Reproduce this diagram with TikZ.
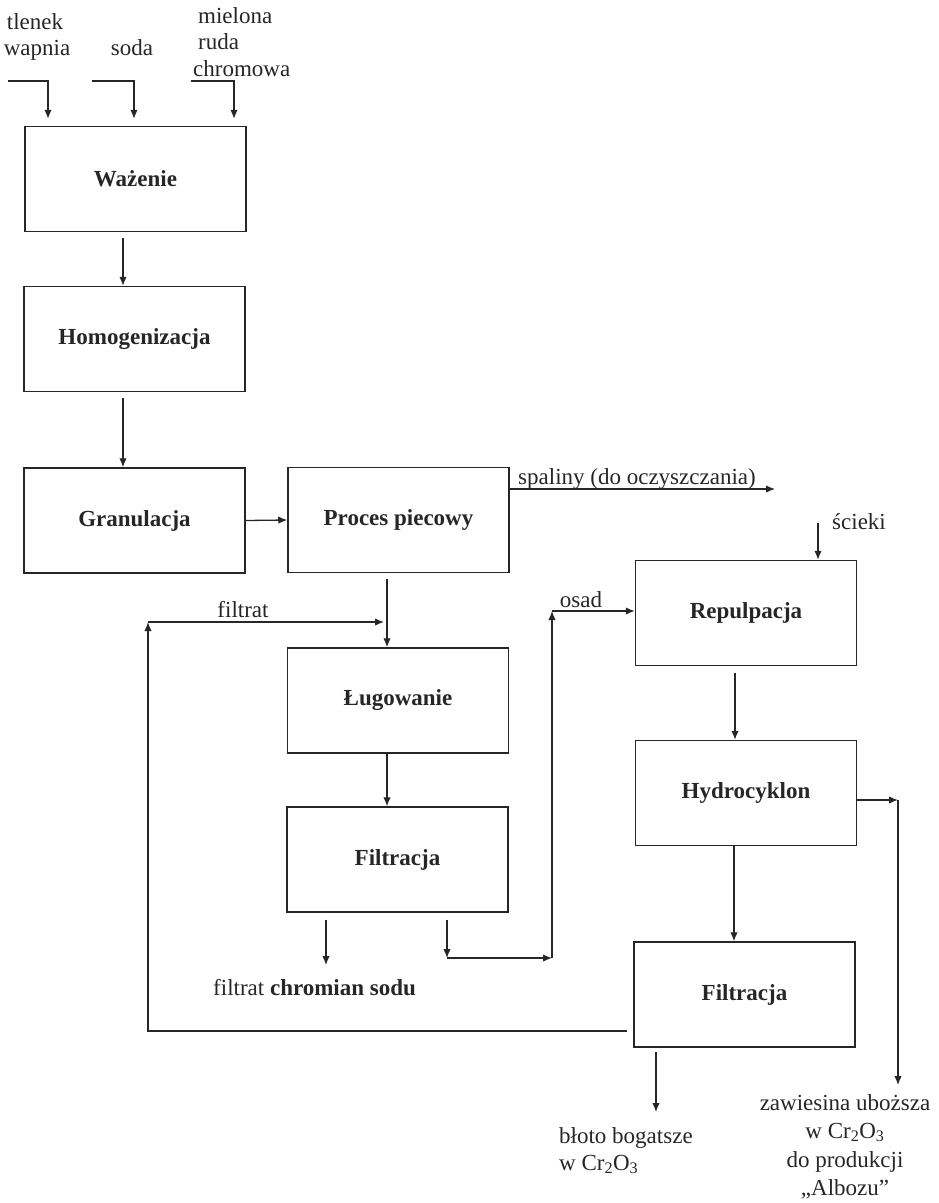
\documentclass[tikz,border=0pt]{standalone}
\usepackage{fontspec}
\setmainfont{Liberation Serif}
\usetikzlibrary{arrows.meta}
\definecolor{ink}{gray}{0.15}
\begin{document}
\begin{tikzpicture}[x=1pt,y=-1pt,
  box/.style={draw=ink, text=ink, line width=1.5pt, minimum width=221pt, minimum height=105pt, inner sep=0pt, font=\fontsize{23}{28}\selectfont\bfseries},
  lbl/.style={inner sep=0pt, text=ink, font=\fontsize{23}{28.5}\selectfont},
  arr/.style={draw=ink, line width=1.3pt, -{Latex[length=9pt,width=7.5pt]}},
  ln/.style={draw=ink, line width=1.3pt}]
\useasboundingbox (0,0) rectangle (939,1203);
% boxes
\node[box] (waz) at (135.5,179) {Ważenie};
\node[box] (hom) at (134.5,339) {Homogenizacja};
\node[box] (gran) at (134.5,520.5) {Granulacja};
\node[box] (proc) at (398.5,520) {Proces piecowy};
\node[box] (lug) at (398,700.5) {Ługowanie};
\node[box] (fil1) at (397.5,859.5) {Filtracja};
\node[box] (rep) at (746,613) {Repulpacja};
\node[box] (hyd) at (746,793) {Hydrocyklon};
\node[box] (fil2) at (744.5,994.5) {Filtracja};
% input labels
\node[lbl, anchor=base] (l1a) at (35,29) {tlenek};
\node[lbl, anchor=base] (l1b) at (37,55) {wapnia};
\node[lbl, anchor=base] (l2) at (132,55) {soda};
\node[lbl, anchor=base west] (l3a) at (198,23) {mielona};
\node[lbl, anchor=base west] (l3b) at (198,49) {ruda};
\node[lbl, anchor=base west] (l3c) at (193,76) {chromowa};
% input arrows
\coordinate (i1) at (8,81);
\coordinate (i2) at (92,81);
\coordinate (i3) at (191,81);
\draw[arr, shorten >=7pt] (i1) -| ([xshift=-87.5pt]waz.north);
\draw[arr, shorten >=7pt] (i2) -| ([xshift=-1.5pt]waz.north);
\draw[arr, shorten >=7pt] (i3) -| ([xshift=98.5pt]waz.north);
% main chain
\draw[arr, shorten <=6pt] ([xshift=-12.5pt]waz.south) -- ([xshift=-11.5pt]hom.north);
\draw[arr, shorten <=6pt] ([xshift=-11.5pt]hom.south) -- ([xshift=-11.5pt]gran.north);
\draw[arr] (gran.east) -- (proc.west);
\coordinate (sp) at (775,489);
\draw[arr] (proc.east |- sp) -- (sp);
\node[lbl, anchor=base west] (spl) at (518,484) {spaliny (do oczyszczania)};
\draw[arr, shorten <=6pt] ([xshift=-11.5pt]proc.south) -- ([xshift=-11pt]lug.north);
\draw[arr] ([xshift=-11pt]lug.south) -- ([xshift=-10.5pt]fil1.north);
% filtrat loop
\coordinate (fb) at (148,1031);
\coordinate (ft) at (148,622);
\coordinate (fe) at (384,622);
\draw[arr, shorten <=6pt] (fil2.west |- fb) -- (fb) -- (ft);
\draw[arr] (ft) -- (fe);
\node[lbl, anchor=base] (fl) at (243,617) {filtrat};
% filtracja 1 outputs
\coordinate (fa) at (326,965);
\draw[arr, shorten <=7pt] (fil1.south -| fa) -- (fa);
\node[lbl, anchor=base west] (chs) at (213,995) {filtrat \textbf{chromian sodu}};
\coordinate (o1) at (447,958);
\coordinate (o2) at (552,958);
\coordinate (o3) at (552,611);
\draw[arr, shorten <=7pt] (fil1.south -| o1) -- (o1);
\draw[arr] (o1) -- (o2);
\draw[arr] (o2) -- (o3);
\draw[arr] (o3) -- (rep.west |- o3);
\node[lbl, anchor=base] (os) at (581,607) {osad};
% scieki
\coordinate (sc) at (818,523);
\draw[arr] (sc) -- (sc |- rep.north);
\node[lbl, anchor=base west] (scl) at (832,529) {ścieki};
% right chain
\draw[arr, shorten <=7pt] ([xshift=-11pt]rep.south) -- ([xshift=-11pt]hyd.north);
\draw[arr] ([xshift=-12pt]hyd.south) -- ([xshift=-10.5pt]fil2.north);
\coordinate (h1) at (898,800);
\coordinate (h2) at (898,1085);
\draw[arr] (hyd.east |- h1) -- (h1);
\draw[arr] (h1) -- (h2);
\coordinate (b1) at (656,1112);
\draw[arr, shorten <=4pt] (fil2.south -| b1) -- (b1);
% outputs labels
\node[lbl, anchor=base west] (bl1) at (559,1143) {błoto bogatsze};
\node[lbl, anchor=base west] (bl2) at (559,1170) {w Cr\textsubscript{2}O\textsubscript{3}};
\node[lbl, anchor=base] (z1) at (845,1110) {zawiesina uboższa};
\node[lbl, anchor=base] (z2) at (845,1138) {w Cr\textsubscript{2}O\textsubscript{3}};
\node[lbl, anchor=base] (z3) at (845,1167) {do produkcji};
\node[lbl, anchor=base] (z4) at (845,1195) {„Albozu”};
\end{tikzpicture}
\end{document}
